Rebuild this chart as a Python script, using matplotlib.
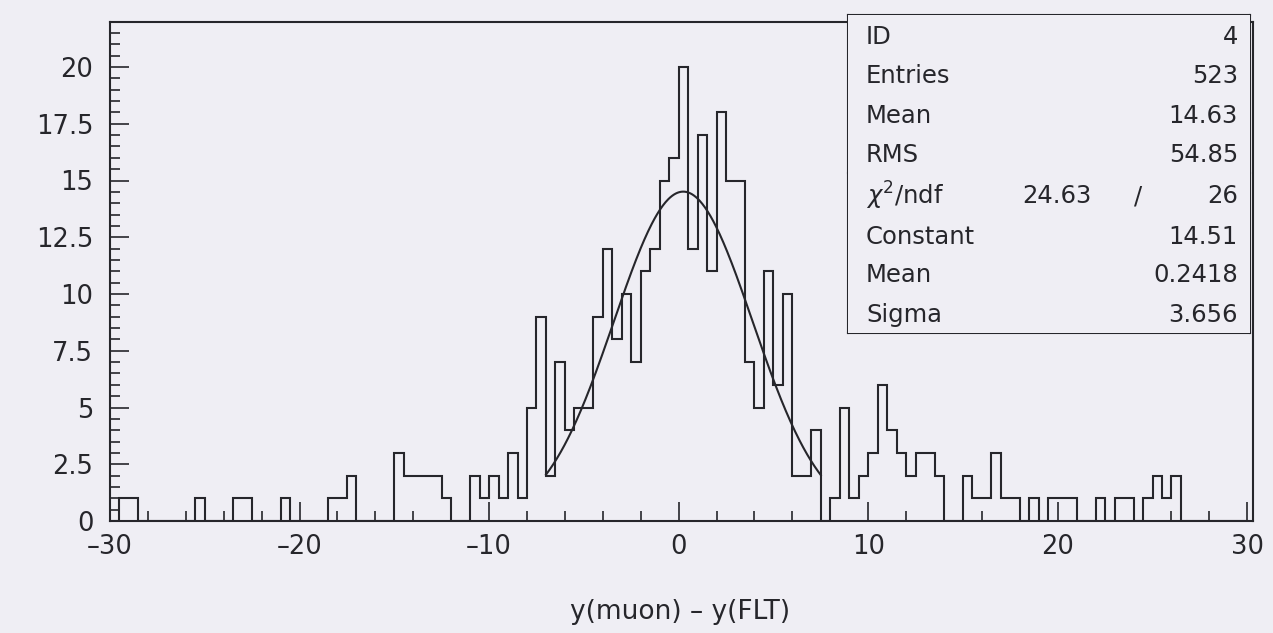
import numpy as np
import matplotlib
matplotlib.use('Agg')
import matplotlib.pyplot as plt
from matplotlib.ticker import MultipleLocator, FuncFormatter

# Histogram ID 4: 120 bins of 0.5 between -30 and 30
x_low, x_high, n_bins = -30.0, 30.0, 120
counts = [
    0, 1, 1, 0, 0, 0, 0, 0, 0, 1,      # -30 .. -25.5
    0, 0, 0, 1, 1, 0, 0, 0, 1, 0,      # -25 .. -20.5
    0, 0, 0, 1, 1, 2, 0, 0, 0, 0,      # -20 .. -15.5
    3, 2, 2, 2, 2, 1, 0, 0, 2, 1,      # -15 .. -10.5
    2, 1, 3, 1, 5, 9, 2, 7, 4, 5,      # -10 .. -5.5
    5, 9, 12, 8, 10, 7, 11, 12, 15, 16,  # -5 .. -0.5
    20, 12, 17, 11, 18, 15, 15, 7, 5, 11,  # 0 .. 4.5
    6, 10, 2, 2, 4, 0, 1, 5, 1, 2,     # 5 .. 9.5
    3, 6, 4, 3, 2, 3, 3, 2, 0, 0,      # 10 .. 14.5
    2, 1, 1, 3, 1, 1, 0, 1, 0, 1,      # 15 .. 19.5
    1, 1, 0, 0, 1, 0, 1, 1, 0, 1,      # 20 .. 24.5
    2, 1, 2, 0, 0, 0, 0, 0, 0, 0,      # 25 .. 29.5
]

# Gaussian fit and its range
fit_constant, fit_mean, fit_sigma = 14.51, 0.2418, 3.656
fit_range = (-7.0, 7.5)

# Statistics box
stat_names = ['ID', 'Entries', 'Mean', 'RMS']
stat_values = ['4', '523', '14.63', '54.85']
chi2_ndf = ('24.63', '26')
fit_names = ['Constant', 'Mean', 'Sigma']
fit_values = ['14.51', '0.2418', '3.656']

x_title = 'y(muon) \u2013 y(FLT)'

paper = (0.937, 0.933, 0.957)
ink = (0.15, 0.15, 0.17)

W, H = 1273, 633
fig = plt.figure(figsize=(W / 100, H / 100), dpi=100, facecolor=paper)
plt.rcParams['font.family'] = ['DejaVu Sans']

# axes in pixel units of the page
left, right, bottom, top = 110, 1253, 521, 21.6
ax = fig.add_axes([left / W, (H - bottom) / H, (right - left) / W, (bottom - top) / H])
ax.set_facecolor(paper)

edges = np.linspace(x_low, x_high, n_bins + 1)
ax.stairs(counts, edges, color=ink, lw=1.5)

xf = np.linspace(fit_range[0], fit_range[1], 300)
yf = fit_constant * np.exp(-0.5 * ((xf - fit_mean) / fit_sigma) ** 2)
ax.plot(xf, yf, color=ink, lw=1.5)

ax.set_xlim(-30, 30.3)
ax.set_ylim(0, 22)

for s in ax.spines.values():
    s.set_color(ink)
    s.set_linewidth(1.5)

ax.xaxis.set_major_locator(MultipleLocator(10))
ax.xaxis.set_minor_locator(MultipleLocator(2))
ax.yaxis.set_major_locator(MultipleLocator(2.5))
ax.yaxis.set_minor_locator(MultipleLocator(0.5))
ax.yaxis.set_major_formatter(FuncFormatter(lambda v, p: '%g' % v))
ax.xaxis.set_major_formatter(FuncFormatter(lambda v, p: ('%g' % v).replace('-', '\u2013')))

ax.tick_params(which='both', direction='in', color=ink, width=1.2,
               labelcolor=ink, labelsize=18.5)
ax.tick_params(which='major', length=14)
ax.tick_params(which='minor', length=7)
ax.tick_params(axis='x', pad=9)
ax.tick_params(axis='y', pad=12)

fig.text(680 / W, 1 - 612 / H, x_title, ha='center', va='center',
         fontsize=19, color=ink)

# statistics box drawn in page pixels
def px(x, y):
    return x / W, 1 - y / H

bx0, bx1, by0, by1, bmid = 848, 1250, 15, 333, 173
for (xa, ya), (xb, yb) in [((bx0, by0), (bx1, by0)), ((bx1, by0), (bx1, by1)),
                           ((bx1, by1), (bx0, by1)), ((bx0, by1), (bx0, by0)),
                           ((bx0, bmid), (bx1, bmid))]:
    p0, p1 = px(xa, ya), px(xb, yb)
    fig.add_artist(plt.Line2D([p0[0], p1[0]], [p0[1], p1[1]], color=ink, lw=1.5,
                              transform=fig.transFigure))
# cover the frame behind the box
fig.add_artist(plt.Rectangle(px(bx0, by1), (bx1 - bx0) / W, (by1 - by0) / H,
                             transform=fig.transFigure, facecolor=paper,
                             edgecolor='none', zorder=2.5))

rows_top = [37, 76, 116, 155]
rows_fit = [237, 275, 315]
tx, vx, fs = 866, 1238, 17.5
for name, val, y in zip(stat_names, stat_values, rows_top):
    fig.text(*px(tx, y), name, ha='left', va='center', fontsize=fs, color=ink, zorder=3)
    fig.text(*px(vx, y), val, ha='right', va='center', fontsize=fs, color=ink, zorder=3)
fig.text(*px(tx, 196), r'$\chi^{2}$/ndf', ha='left', va='center', fontsize=fs, color=ink, zorder=3)
fig.text(*px(1092, 196), chi2_ndf[0], ha='right', va='center', fontsize=fs, color=ink, zorder=3)
fig.text(*px(1138, 196), '/', ha='center', va='center', fontsize=fs, color=ink, zorder=3)
fig.text(*px(vx, 196), chi2_ndf[1], ha='right', va='center', fontsize=fs, color=ink, zorder=3)
for name, val, y in zip(fit_names, fit_values, rows_fit):
    fig.text(*px(tx, y), name, ha='left', va='center', fontsize=fs, color=ink, zorder=3)
    fig.text(*px(vx, y), val, ha='right', va='center', fontsize=fs, color=ink, zorder=3)

fig.savefig('out.png', dpi=100, facecolor=paper)
